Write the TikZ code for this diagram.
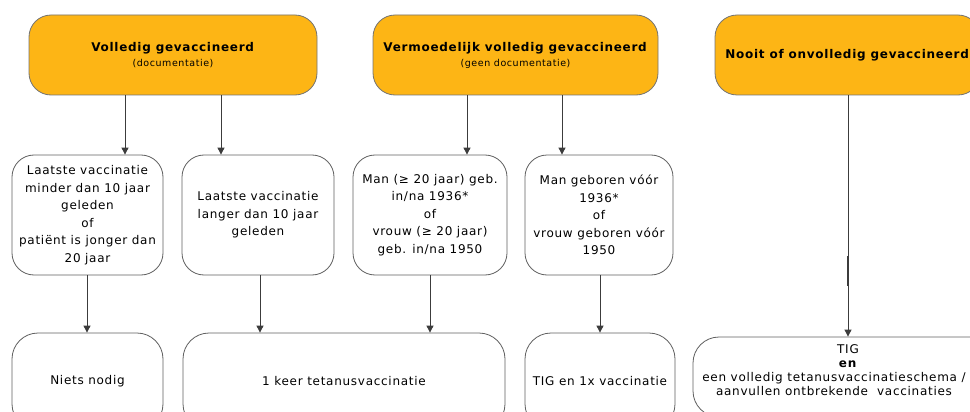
\documentclass[tikz,border=0pt]{standalone}
\usepackage{fontspec}
\setmainfont{DejaVu Sans}[LetterSpace=6]
\usetikzlibrary{arrows.meta}
\definecolor{orangefill}{RGB}{253,181,21}
\definecolor{obord}{RGB}{115,115,115}
\definecolor{wbord}{RGB}{95,95,95}
\definecolor{arrowc}{RGB}{60,60,60}
\begin{document}
\begin{tikzpicture}[x=1pt,y=-1pt,
  head/.style={draw=obord, line width=0.8pt, fill=orangefill, rounded corners=22pt,
    minimum height=80pt, inner sep=0pt, align=center, font=\fontsize{12}{16}\selectfont},
  cond/.style={draw=wbord, line width=0.8pt, fill=white, rounded corners=22pt,
    minimum height=120pt, inner sep=0pt, align=center, font=\fontsize{12}{17.5}\selectfont},
  result/.style={draw=wbord, line width=0.8pt, fill=white, rounded corners=26pt,
    inner sep=0pt, align=center, font=\fontsize{12}{14}\selectfont},
  arr/.style={draw=arrowc, line width=0.9pt, -{Triangle[width=7pt,length=7pt]}}
]
\useasboundingbox (0,0) rectangle (970,412);
\clip (0,0) rectangle (970,412);

% header boxes
\node[head, minimum width=288pt] (o1) at (173,55)
  {\textbf{Volledig gevaccineerd}\\[-1pt]{\fontsize{9.5}{10}\selectfont (documentatie)}};
\node[head, minimum width=285pt] (o2) at (515.5,55)
  {\textbf{Vermoedelijk volledig gevaccineerd}\\[-1pt]{\fontsize{9.5}{10}\selectfont (geen documentatie)}};
\node[head, minimum width=265pt] (o3) at (847.5,55)
  {\textbf{Nooit of onvolledig gevaccineerd}};

% condition boxes
\node[cond, minimum width=151pt] (a) at (87.5,215)
  {Laatste vaccinatie\\minder dan 10 jaar\\geleden\\of\\patiënt is jonger dan\\20 jaar};
\node[cond, minimum width=152pt] (b) at (258,215)
  {Laatste vaccinatie\\langer dan 10 jaar\\geleden};
\node[cond, minimum width=154pt] (c) at (430,215)
  {Man (≥ 20 jaar) geb.\\in/na 1936*\\of\\vrouw (≥ 20 jaar)\\geb. in/na 1950};
\node[cond, minimum width=148pt] (d) at (599,215)
  {Man geboren vóór\\1936*\\of\\vrouw geboren vóór\\1950};

% result boxes
\node[result, minimum width=151pt, minimum height=97pt] (r1) at (87.5,381.5) {Niets nodig};
\node[result, minimum width=322pt, minimum height=97pt] (r2) at (344,381.5) {1 keer tetanusvaccinatie};
\node[result, minimum width=150pt, minimum height=97pt] (r3) at (600,381.5) {TIG en 1x vaccinatie};
\node[result, minimum width=310pt, minimum height=80pt] (r4) at (848,377)
  {TIG\\\textbf{en}\\een volledig tetanusvaccinatieschema /\hbox to 28pt{}\\aanvullen ontbrekende\ \ vaccinaties\hbox to 28pt{}\\};

% connectors
\draw[arr] (o1.south -| 125,0) -- (a.north -| 125,0);
\draw[arr] (o1.south -| 221,0) -- (b.north -| 221,0);
\draw[arr] (o2.south -| 467,0) -- (c.north -| 467,0);
\draw[arr] (o2.south -| 562,0) -- (d.north -| 562,0);
\draw[arr] (o3.south -| 848,0) -- (r4.north -| 848,0);
\draw[draw=arrowc, line width=1.8pt] (848,256) -- (848,286);
\draw[arr] (a.south -| 87,0) -- (r1.north -| 87,0);
\draw[arr] (b.south -| 260,0) -- (r2.north -| 260,0);
\draw[arr] (c.south -| 430,0) -- (r2.north -| 430,0);
\draw[arr] (d.south -| 600,0) -- (r3.north -| 600,0);
\end{tikzpicture}
\end{document}
